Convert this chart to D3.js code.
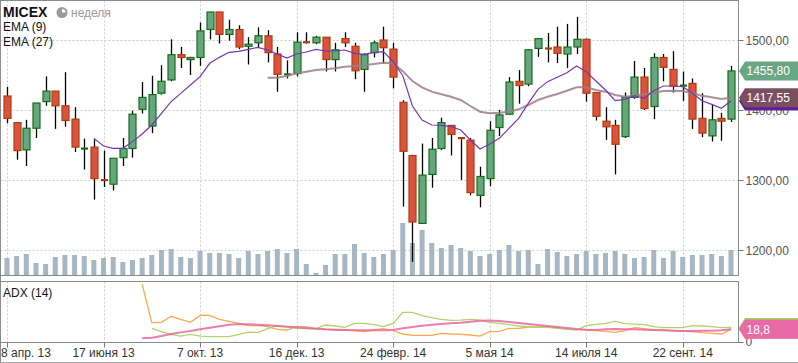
<!DOCTYPE html>
<html>
<head>
<meta charset="utf-8">
<script src="https://cdn.jsdelivr.net/npm/d3@7"></script>
<style>
  body { margin: 0; background: #fff; }
  svg { display: block; font-family: "Liberation Sans", Arial, sans-serif; }
</style>
</head>
<body>
<svg id="chart" width="798" height="363"></svg>
<script>
// weekly MICEX candles, one entry per week
var tickIndex = [0, 10, 20, 30, 40, 50, 60, 70];
var tickLabels = ['8 апр. 13', '17 июня 13', '7 окт. 13', '16 дек. 13', '24 февр. 14', '5 мая 14', '14 июля 14', '22 сент. 14'];
var priceTicks = [1200, 1300, 1400, 1500];

var opens  = [1420,1382,1343,1374,1412,1427,1406,1387,1344,1347, 1300,1294,1332,1345,1401,1377,1424,1443,1479,1472,
              1475,1515,1540,1508,1515,1491,1496,1506,1480,1449, 1452,1497,1496,1504,1472,1502,1491,1458,1482,1500,
              1487,1411,1335,1238,1308,1345,1378,1360,1357,1278, 1302,1375,1394,1441,1437,1488,1488,1490,1480,1490,
              1501,1425,1384,1378,1362,1418,1447,1405,1475,1458, 1434,1438,1388,1363,1388,1387];
var highs  = [1433,1383,1386,1410,1448,1427,1454,1404,1359,1358, 1342,1331,1360,1399,1440,1449,1464,1501,1490,1476,
              1525,1540,1540,1529,1521,1504,1518,1514,1490,1471, 1511,1511,1506,1504,1496,1511,1496,1481,1499,1519,
              1496,1414,1336,1352,1360,1389,1378,1361,1360,1319, 1384,1400,1447,1457,1487,1502,1510,1519,1523,1533,
              1502,1425,1404,1386,1425,1470,1460,1481,1480,1484, 1455,1445,1424,1408,1396,1463];
var lows   = [1381,1329,1320,1360,1406,1373,1376,1340,1315,1272, 1290,1285,1320,1332,1395,1367,1422,1441,1460,1450,
              1463,1501,1495,1499,1487,1465,1490,1468,1426,1445, 1448,1495,1494,1455,1455,1490,1444,1426,1475,1467,
              1431,1262,1183,1238,1289,1343,1335,1300,1278,1261, 1291,1363,1393,1409,1434,1476,1468,1467,1460,1480,
              1412,1385,1357,1308,1360,1416,1400,1387,1441,1425, 1413,1373,1361,1355,1356,1383];
var closes = [1388,1342,1374,1410,1427,1406,1385,1347,1345,1302, 1299,1331,1345,1394,1418,1422,1441,1479,1475,1475,
              1513,1540,1508,1515,1490,1494,1506,1482,1451,1451, 1497,1496,1504,1472,1486,1496,1456,1479,1496,1489,
              1447,1341,1240,1307,1344,1382,1365,1359,1282,1305, 1371,1393,1440,1435,1486,1502,1487,1481,1490,1501,
              1424,1391,1376,1351,1418,1447,1402,1475,1461,1434, 1435,1387,1367,1386,1384,1455.8];
var volumes = [17,19,21,12,11,18,20,20,19,15, 17,18,13,15,17,20,25,26,18,17,
               24,22,22,21,17,24,21,24,26,22, 26,11,2,10,21,21,31,22,18,21,
               25,52,32,45,32,27,30,27,24,19, 21,25,30,24,25,11,26,23,19,21,
               24,21,22,24,21,17,18,25,17,24, 18,20,20,21,19,25];

var ema9Start = 9;
var ema9 = [1359.5,1348.6,1345.3,1345.3,1354.8,1365.7,1378.6,1395.2,1411.9,1423.8,1435.7,
            1447.6,1466.7,1475.2,1482.4,1483.8,1486.7,1489.5,1485.7,1480,1474.3,
            1480,1482.9,1486.7,1484.3,1484.3,1485.7,1481,1479.6,1482.4,1483.3,
            1469,1449,1405.7,1385.7,1378.6,1378.1,1376.2,1371.4,1357.1,1344.3,
            1351.4,1359.5,1373.8,1388.1,1409.5,1429.5,1440.5,1446.7,1453.3,1462.9,
            1454.8,1441.5,1428.6,1413.3,1415.2,1420.5,1416.7,1427.6,1434.3,1434.3,
            1433.3,1423.8,1413.3,1408.1,1402.4,1412.9];
var ema27Start = 27;
var ema27 = [1446.2,1446.2,1448.6,1452.4,1454.8,1457.1,1458.1,1459.5,1461.9,1462.9,1463.8,1465.7,1467.6,
             1466.7,1455.5,1441.4,1432.4,1426.2,1422.4,1419,1414.3,1405.7,1397.6,
             1395.2,1396.2,1397.6,1401,1407.1,1414.3,1419,1422.9,1427.6,1432.4,
             1432.4,1428.6,1426.2,1421.4,1419,1420.5,1422.4,1424.8,1427.1,1427.6,
             1427.1,1423.8,1420.5,1418.1,1415.7,1417.55];

var adxStart = 14;
var adx = [5.4,6.4,8.8,11.8,14.2,16.2,18.7,21.1,23.1,25.6,26.5,26.1,25.6,24.6,23.6,22.6,
           21.6,20.7,19.7,18.7,18.2,17.7,17.2,17.2,17.2,17.2,17.7,20.2,22.1,24.1,25.6,26.5,
           27.5,28.5,30,31.5,31.9,31,29.5,28,26.5,25.1,23.6,22.1,20.7,19.2,18.2,17.7,
           18.7,19.2,18.7,18.7,18.2,17.7,17.2,16.7,16.2,16.2,16.7,16.7,17.2,18.8];
var diMinusStart = 14;
var diMinus = [85.5,28.5,28.9,37.9,33.4,29,39.3,39.3,33.4,30.5,27.5,24.1,24.1,22.6,18.7,17.7,
               22.6,22.1,20.2,18.7,17.7,17.7,16.7,15.2,17.7,19.7,16.7,11.8,9.8,9.8,9.8,12.8,
               11.8,11.3,10.3,8.8,15.2,15.7,20.2,20.2,22.1,22.1,22.6,21.1,19.7,18.7,17.7,16.7,
               15.7,14.2,16.7,21.1,19.7,17.7,17.7,16.7,15.7,15.2,13.8,12.8,11.8,18.7];
var diPlusStart = 15;
var diPlus = [20.2,15.2,11.3,8.8,11.3,8.8,7.9,7.9,7.9,11.3,14.7,13.8,19.7,24.1,22.6,
              20.2,19.7,19.7,25.1,23.6,21.6,27.5,27.5,25.6,22.6,27.5,43.8,43.8,38.9,35.9,33.4,
              32,32.4,33.4,32.4,29,27.5,25.6,23.6,22.6,22.1,21.6,20.2,18.7,17.7,24.1,
              26.1,27.5,30.5,27,26.5,25.6,22.6,21.1,21.1,21.1,24.1,23.6,22.6,21.1,21.5];

var svg = d3.select('#chart');

var plotLeft = 0.5, plotRight = 738.5, mainTop = 0.5, mainBottom = 275.5;
var adxTop = 281.5, adxBottom = 342.5;

var x = d3.scaleLinear().domain([0, opens.length - 1]).range([7, 731]);
var y = d3.scaleLinear().domain([1200, 1500]).range([250, 40]);
var vy = d3.scaleLinear().domain([0, 60]).range([275, 215]);
var ay = d3.scaleLinear().domain([0, 90]).range([342, 281]);

var fmt = function(v, p) { return d3.format('.' + p + 'f')(v).replace('.', ','); };

// grid
var grid = svg.append('g').attr('stroke', '#c9d2c9').attr('stroke-dasharray', '2,2');
grid.selectAll('line.h').data(priceTicks).enter().append('line')
  .attr('x1', plotLeft).attr('x2', plotRight)
  .attr('y1', function(d) { return Math.round(y(d)) + 0.5; })
  .attr('y2', function(d) { return Math.round(y(d)) + 0.5; });
tickIndex.forEach(function(i) {
  var xx = Math.round(x(i)) + 0.5;
  grid.append('line').attr('x1', xx).attr('x2', xx).attr('y1', mainTop).attr('y2', mainBottom);
  grid.append('line').attr('x1', xx).attr('x2', xx).attr('y1', adxTop).attr('y2', adxBottom);
});

// volume
svg.append('g').selectAll('rect').data(volumes).enter().append('rect')
  .attr('x', function(d, i) { return x(i) - 2.5; })
  .attr('width', 5)
  .attr('y', function(d) { return vy(d); })
  .attr('height', function(d) { return vy(0) - vy(d); })
  .attr('fill', '#a6b6c3');

// candles
var candles = svg.append('g');
opens.forEach(function(o, i) {
  var c = closes[i], up = c >= o;
  var cx = Math.round(x(i)) + 0.5;
  candles.append('line').attr('x1', cx).attr('x2', cx)
    .attr('y1', y(highs[i])).attr('y2', y(lows[i]))
    .attr('stroke', '#000').attr('stroke-width', 1.3);
  var top = y(Math.max(o, c)), h = Math.abs(y(o) - y(c));
  if (h < 2) {
    candles.append('rect').attr('x', cx - 3.5).attr('width', 7)
      .attr('y', top - 1).attr('height', 2.2)
      .attr('fill', up ? '#12701a' : '#b03c0e');
  } else {
    candles.append('rect').attr('x', cx - 3.5).attr('width', 7)
      .attr('y', top).attr('height', h)
      .attr('fill', up ? '#67a67f' : '#d9533e')
      .attr('stroke', up ? '#12701a' : '#b03c0e').attr('stroke-width', 1.2);
  }
});

// EMA lines
var line = function(yScale, start) {
  return d3.line().x(function(d, i) { return x(i + start); }).y(function(d) { return yScale(d); });
};
svg.append('path').datum(ema27).attr('d', line(y, ema27Start))
  .attr('fill', 'none').attr('stroke', '#9b7c88').attr('stroke-width', 2).attr('stroke-opacity', 0.85);
svg.append('path').datum(ema9).attr('d', line(y, ema9Start))
  .attr('fill', 'none').attr('stroke', '#7537b3').attr('stroke-width', 1.2);

// ADX panel lines
svg.append('path').datum(diMinus).attr('d', line(ay, diMinusStart))
  .attr('fill', 'none').attr('stroke', '#ffa84f').attr('stroke-width', 1.3);
svg.append('path').datum(diPlus).attr('d', line(ay, diPlusStart))
  .attr('fill', 'none').attr('stroke', '#acd56c').attr('stroke-width', 1.3);
svg.append('path').datum(adx).attr('d', line(ay, adxStart))
  .attr('fill', 'none').attr('stroke', '#e9679f').attr('stroke-width', 2).attr('stroke-opacity', 0.85);

// frames
var frame = svg.append('g').attr('fill', 'none').attr('stroke', '#8a8a8a');
frame.append('rect').attr('x', plotLeft).attr('y', mainTop).attr('width', plotRight - plotLeft).attr('height', mainBottom - mainTop);
frame.append('rect').attr('x', plotLeft).attr('y', adxTop).attr('width', plotRight - plotLeft).attr('height', adxBottom - adxTop);
frame.append('line').attr('x1', 0.5).attr('x2', 0.5).attr('y1', 0).attr('y2', 363);
frame.append('line').attr('x1', 0).attr('x2', 798).attr('y1', 362.5).attr('y2', 362.5).attr('stroke', '#aaa');

// right price axis
var axisG = svg.append('g').attr('font-size', 12).attr('fill', '#555');
priceTicks.forEach(function(p) {
  var yy = Math.round(y(p)) + 0.5;
  axisG.append('line').attr('x1', plotRight).attr('x2', plotRight + 5).attr('y1', yy).attr('y2', yy).attr('stroke', '#777');
  axisG.append('text').attr('x', plotRight + 7).attr('y', yy).attr('dy', '0.35em').text(fmt(p, 2));
});
axisG.append('line').attr('x1', plotRight).attr('x2', plotRight + 5).attr('y1', adxBottom).attr('y2', adxBottom).attr('stroke', '#777');
axisG.append('text').attr('x', plotRight + 7).attr('y', ay(0)).attr('dy', '0.35em').text('0');

// bottom time axis, first label is pushed inside the left edge
var xa = svg.append('g').attr('font-size', 12).attr('fill', '#333').attr('text-anchor', 'middle');
tickIndex.forEach(function(i, k) {
  var xx = Math.round(x(i)) + 0.5;
  xa.append('line').attr('x1', xx).attr('x2', xx).attr('y1', adxBottom).attr('y2', adxBottom + 5).attr('stroke', '#777');
  var t = xa.append('text').attr('x', x(i)).attr('y', 357).text(tickLabels[k]);
  var w = t.node().getComputedTextLength();
  if (x(i) - w / 2 < 1) t.attr('text-anchor', 'start').attr('x', 1);
});

// last value flags
var flag = function(yy, color, label, textColor) {
  var g = svg.append('g');
  var h = 9.5;
  g.append('path')
    .attr('d', 'M' + (plotRight + 0.5) + ',' + yy + 'L' + (plotRight + 6.5) + ',' + (yy - h) +
      'H798V' + (yy + h) + 'H' + (plotRight + 6.5) + 'Z')
    .attr('fill', color);
  if (label) {
    g.append('text').attr('x', plotRight + 8).attr('y', yy).attr('dy', '0.36em')
      .attr('font-size', 12).attr('fill', textColor || '#fff').text(label);
  }
};
flag(y(ema9[ema9.length - 1]), '#5d1f9a');
flag(y(ema27[ema27.length - 1]), '#7a5061', fmt(ema27[ema27.length - 1], 2));
flag(y(closes[closes.length - 1]), '#69a784', fmt(closes[closes.length - 1], 2));
flag(ay(diMinus[diMinus.length - 1]), '#ffa84f');
flag(ay(diPlus[diPlus.length - 1]), '#9ccc5c');
flag(ay(adx[adx.length - 1]), '#e86aa6', fmt(adx[adx.length - 1], 1));

// legends
var leg = svg.append('g').attr('font-size', 12).attr('fill', '#111');
leg.append('text').attr('x', 3).attr('y', 17).attr('font-size', 14).attr('font-weight', 'bold').text('MICEX');
var clock = leg.append('g').attr('transform', 'translate(62,12.5)');
clock.append('circle').attr('r', 5.5).attr('fill', '#9a9a9a');
clock.append('path').attr('d', d3.arc()({ innerRadius: 0, outerRadius: 3.6, startAngle: 0, endAngle: Math.PI * 0.5 })).attr('fill', '#fff');
leg.append('text').attr('x', 71).attr('y', 17).attr('fill', '#9a9a9a').attr('font-size', 12).text('неделя');
leg.append('text').attr('x', 3).attr('y', 31).text('EMA (9)');
leg.append('text').attr('x', 3).attr('y', 46).text('EMA (27)');
leg.append('text').attr('x', 3).attr('y', 297).text('ADX (14)');
</script>
</body>
</html>
